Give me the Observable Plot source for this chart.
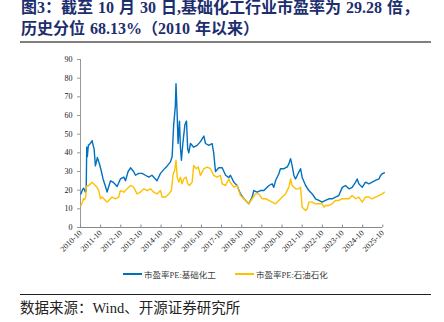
<!DOCTYPE html>
<html>
<head>
<meta charset="utf-8">
<script src="https://cdn.jsdelivr.net/npm/d3@7"></script>
<script src="https://cdn.jsdelivr.net/npm/@observablehq/plot@0.6"></script>
<style>
  html, body { margin: 0; padding: 0; background: #fff; }
  #wrap { position: relative; width: 444px; height: 322px; overflow: hidden; background: #fff; }
  #title { position: absolute; left: 21px; top: -3px; font-family: "Liberation Serif", "Noto Sans CJK SC", serif; font-weight: bold; font-size: 16px; line-height: 21px; word-spacing: 1px; color: #1c2e6e; white-space: nowrap; }
  #rule1 { position: absolute; left: 20px; top: 41px; width: 411px; height: 2px; background: #808080; }
  #chart { position: absolute; left: 0; top: 48px; }
  #legend { position: absolute; left: 0; top: 268px; width: 444px; height: 14px; font-family: "Liberation Serif", "Noto Sans CJK SC", serif; font-size: 8.5px; color: #404040; }
  .li { position: absolute; top: 0; display: flex; align-items: center; height: 12px; white-space: nowrap; }
  .sw { display: inline-block; width: 19px; height: 2px; margin-right: 2px; }
  #rule2 { position: absolute; left: 20px; top: 294px; width: 411px; height: 1px; background: #222; }
  #source { position: absolute; left: 20px; top: 299px; font-family: "Liberation Serif", "Noto Sans CJK SC", serif; font-size: 14.5px; line-height: 18px; color: #222; white-space: nowrap; }
</style>
</head>
<body>
<div id="wrap">
  <div id="title"></div>
  <div id="rule1"></div>
  <div id="chart"></div>
  <div id="legend"></div>
  <div id="rule2"></div>
  <div id="source"></div>
</div>
<script>
const titleLines = ["图3：截至 10 月 30 日,基础化工行业市盈率为 29.28 倍，", "历史分位 68.13%（2010 年以来）"];
const sourceText = "数据来源：Wind、开源证券研究所";
const seriesNames = ["市盈率PE:基础化工", "市盈率PE:石油石化"];
const seriesColors = ["#0070C0", "#FFC000"];

const yTicks = [0, 10, 20, 30, 40, 50, 60, 70, 80, 90];
const xTickLabels = ["2010-10","2011-10","2012-10","2013-10","2014-10","2015-10","2016-10","2017-10","2018-10","2019-10","2020-10","2021-10","2022-10","2023-10","2024-10","2025-10"];

const chemDates = ["2010-10-08","2010-11-10","2010-11-28","2010-12-28","2011-01-12","2011-01-22","2011-02-02","2011-02-20","2011-03-28","2011-04-30","2011-05-18","2011-06-05","2011-06-28","2011-07-15","2011-08-03","2011-09-10","2011-10-15","2011-11-14","2011-12-28","2012-01-26","2012-02-25","2012-03-28","2012-05-26","2012-07-26","2012-09-23","2012-11-25","2012-12-24","2013-02-10","2013-03-26","2013-05-21","2013-06-23","2013-08-20","2013-10-22","2013-12-20","2014-02-20","2014-04-18","2014-06-20","2014-07-19","2014-09-19","2014-11-17","2015-01-19","2015-03-17","2015-04-19","2015-05-17","2015-06-16","2015-06-28","2015-07-20","2015-08-04","2015-08-30","2015-09-16","2015-10-04","2015-10-30","2015-12-06","2016-01-04","2016-01-26","2016-02-14","2016-03-17","2016-05-14","2016-07-15","2016-09-13","2016-11-14","2016-12-14","2017-02-13","2017-04-12","2017-05-11","2017-06-13","2017-08-11","2017-10-12","2017-12-13","2018-02-10","2018-03-10","2018-05-11","2018-07-08","2018-09-09","2018-11-10","2019-01-08","2019-02-06","2019-04-08","2019-05-08","2019-07-08","2019-09-06","2019-11-07","2020-02-06","2020-04-05","2020-05-04","2020-06-06","2020-08-04","2020-09-02","2020-11-04","2021-01-04","2021-02-03","2021-03-04","2021-04-01","2021-05-04","2021-06-02","2021-08-01","2021-09-01","2021-10-01","2021-12-02","2022-01-30","2022-04-01","2022-05-30","2022-07-30","2022-09-28","2022-11-28","2023-01-26","2023-03-28","2023-05-26","2023-07-26","2023-09-28","2023-11-25","2024-01-26","2024-03-25","2024-05-26","2024-06-24","2024-07-23","2024-09-23","2024-11-21","2025-01-22","2025-03-22","2025-05-22","2025-07-23","2025-08-23","2025-09-20","2025-10-30"];
const chemPE = [18,20.5,21,19,19.5,43,38,44,45,46.5,44,42,33,35,37.5,34,30,26,22,19,22,25,24,22,26,27,25,30,32,30,28,29,29,28,27,28,26,25,29,31,33,35,38,55,65,77,60,45,57,43,36,45,55,57,42,40,45,43,44,46,49,45,44,45,40,30,32,32,28,26.7,28,24.3,22.5,18,15.4,13.6,12.7,16.3,19.8,18.9,19.8,19.8,22.5,23.4,21.5,25.2,28.8,31.5,31.5,32.5,34.2,36.9,33.3,27.9,26,29.7,31.5,26.8,22.5,19.8,18,15.4,14.5,13.6,14.5,15.4,15.4,16.3,17.1,21.5,22.5,20.7,21.5,24.3,26,23.4,21.5,24.3,23.4,24.3,25.2,26,27.9,28.8,29.28];

const petroDates = ["2010-10-08","2010-11-06","2010-11-25","2010-12-16","2011-01-04","2011-01-15","2011-02-28","2011-04-30","2011-05-28","2011-07-26","2011-08-28","2011-09-28","2011-10-26","2011-11-28","2011-12-28","2012-01-26","2012-02-25","2012-04-25","2012-06-25","2012-08-24","2012-09-23","2012-11-25","2013-01-22","2013-03-26","2013-05-21","2013-07-22","2013-09-20","2013-11-21","2014-01-22","2014-03-21","2014-05-21","2014-07-19","2014-09-19","2014-10-19","2014-12-20","2015-02-18","2015-04-05","2015-05-08","2015-06-05","2015-06-28","2015-07-20","2015-08-18","2015-09-16","2015-10-16","2015-11-14","2015-12-28","2016-01-26","2016-02-28","2016-04-16","2016-05-14","2016-06-28","2016-08-04","2016-09-13","2016-11-14","2017-01-12","2017-03-14","2017-05-11","2017-07-12","2017-09-09","2017-10-12","2017-12-13","2018-02-10","2018-03-10","2018-05-11","2018-07-08","2018-09-09","2018-10-08","2018-12-10","2019-02-06","2019-04-08","2019-06-05","2019-08-07","2019-10-08","2019-12-06","2020-02-06","2020-04-05","2020-06-06","2020-08-04","2020-10-05","2020-12-03","2021-02-03","2021-03-04","2021-04-01","2021-06-02","2021-08-01","2021-09-01","2021-10-01","2021-12-02","2022-01-01","2022-01-30","2022-04-01","2022-05-30","2022-07-30","2022-09-28","2022-10-30","2022-11-28","2023-01-26","2023-03-28","2023-05-26","2023-07-26","2023-09-28","2023-11-25","2024-01-26","2024-03-25","2024-05-26","2024-07-23","2024-09-23","2024-11-21","2025-01-22","2025-03-22","2025-05-22","2025-07-23","2025-09-20","2025-10-30"];
const petroPE = [11.8,13.5,15.5,15,16.5,22,22.5,24.3,23.4,21.6,19.8,15.4,16.3,15.4,14.5,13.6,14.5,16.3,15.4,16.3,19.8,18.9,20.7,22.5,21.6,18,18.9,20.7,19.8,20.7,18.9,18,19.8,16.3,16.3,18,19.8,28.8,30.6,36,27,24.3,27,23.4,26,27,23.4,22.5,24.3,33.3,31.5,32.4,27.9,31.5,32.4,31.5,27.9,27,27.9,23.4,22.5,26,24,21.6,22.5,17.1,16.3,14.5,12.7,15.4,18,18,15.4,15.4,14.5,13.6,12.7,14.5,16.3,18,21.6,26,22.5,20.7,20.7,21.6,10.9,9.1,10,13.6,13.6,12.7,12.7,12.7,10.9,11.8,11.8,12.7,14.5,14.5,15.4,15.4,15.4,17.1,15.4,16.3,13.6,16.3,16.3,15.4,16.3,17.1,18,18.9];

document.getElementById("title").innerHTML = titleLines.join("<br>");
document.getElementById("source").textContent = sourceText;

const chem = chemDates.map((d, i) => ({date: new Date(d), v: chemPE[i]}));
const petro = petroDates.map((d, i) => ({date: new Date(d), v: petroPE[i]}));
const xTicks = xTickLabels.map(s => new Date(s + "-01"));

const chart = Plot.plot({
  width: 444,
  height: 222,
  marginLeft: 80,
  marginRight: 61.7,
  marginTop: 11,
  marginBottom: 43,
  style: {fontFamily: "'Liberation Serif', serif", fontSize: "8px", color: "#222", background: "transparent"},
  x: {type: "utc", domain: [xTicks[0], xTicks[xTicks.length - 1]], label: null},
  y: {domain: [0, 90], label: null},
  marks: [
    Plot.axisY({ticks: yTicks, tickSize: 3, tickPadding: 5, stroke: "#999", label: null}),
    Plot.frame({anchor: "left", stroke: "#999"}),
    Plot.axisX({ticks: xTicks, tickFormat: d3.utcFormat("%Y-%m"), tickRotate: -45, tickSize: 0, tickPadding: 4, label: null}),
    Plot.ruleX(xTicks, {x: d => d, y1: 0, y2: 1.3, stroke: "#888"}),
    Plot.ruleY([0], {stroke: "#888"}),
    Plot.line(chem, {x: "date", y: "v", stroke: seriesColors[0], strokeWidth: 1.4}),
    Plot.line(petro, {x: "date", y: "v", stroke: seriesColors[1], strokeWidth: 1.4})
  ]
});
document.getElementById("chart").appendChild(chart);

const legend = document.getElementById("legend");
const legendX = [123, 235];
seriesNames.forEach((name, i) => {
  const item = document.createElement("div");
  item.className = "li";
  item.style.left = legendX[i] + "px";
  const sw = document.createElement("span");
  sw.className = "sw";
  sw.style.background = seriesColors[i];
  const tx = document.createElement("span");
  tx.textContent = name;
  item.appendChild(sw);
  item.appendChild(tx);
  legend.appendChild(item);
});
</script>
</body>
</html>
